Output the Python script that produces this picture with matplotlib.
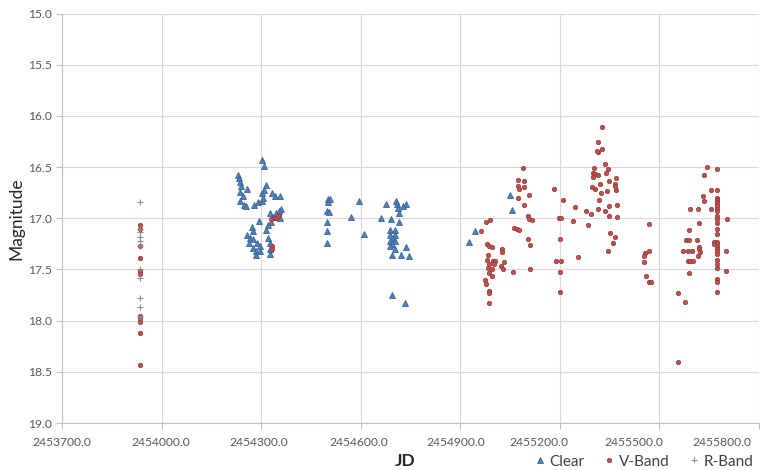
import matplotlib
matplotlib.use("Agg")
import matplotlib.pyplot as plt
from matplotlib.ticker import FormatStrFormatter, MultipleLocator
from matplotlib.transforms import ScaledTranslation

plt.rcParams['font.family'] = ['Lato', 'DejaVu Sans']

# ---------------- data ----------------
clear_jd = [
    2454304, 2454308, 2454230, 2454233, 2454236, 2454238, 2454256, 2454236, 2454244, 2454236,
    2454248, 2454254, 2454278, 2454291, 2454304, 2454306, 2454304, 2454308, 2454314, 2454334,
    2454341, 2454358, 2454361, 2454354, 2454346, 2454326, 2454336, 2454356, 2454331, 2454321,
    2454314, 2454294, 2454271, 2454276, 2454256, 2454266, 2454276, 2454264, 2454288, 2454296,
    2454274, 2454284, 2454296, 2454321, 2454326, 2454326, 2454284, 2454326,
    2454501, 2454506, 2454498, 2454504, 2454498, 2454498, 2454498, 2454501,
    2454572, 2454595, 2454609,
    2454677, 2454707, 2454709, 2454712, 2454727, 2454737, 2454660, 2454692, 2454714, 2454714,
    2454687, 2454702, 2454689, 2454704, 2454697, 2454687, 2454704, 2454695, 2454687, 2454702,
    2454737, 2454695, 2454722, 2454745, 2454695, 2454732,
    2454925, 2454945, 2455051, 2455056,
]
clear_mag = [
    16.43, 16.49, 16.58, 16.61, 16.65, 16.68, 16.71, 16.74, 16.78, 16.83,
    16.87, 16.88, 16.87, 16.84, 16.83, 16.80, 16.75, 16.72, 16.67, 16.75,
    16.78, 16.78, 16.91, 16.93, 16.95, 16.95, 16.99, 17.00, 17.04, 17.07,
    17.11, 17.03, 17.08, 17.12, 17.16, 17.19, 17.20, 17.24, 17.24, 17.27,
    17.29, 17.32, 17.32, 17.19, 17.24, 17.30, 17.36, 17.35,
    16.81, 16.81, 16.93, 16.94, 17.04, 17.12, 17.24, 16.84,
    16.99, 16.83, 17.15,
    16.86, 16.83, 16.86, 16.90, 16.88, 16.86, 17.00, 17.01, 16.95, 17.04,
    17.11, 17.11, 17.16, 17.16, 17.19, 17.22, 17.22, 17.25, 17.27, 17.30,
    17.28, 17.36, 17.36, 17.37, 17.75, 17.83,
    17.23, 17.12, 16.77, 16.92,
]

vband_jd = [
    2453935, 2453935, 2453935, 2453935, 2453935, 2453935, 2453935, 2453935, 2453935, 2453935, 2453935,
    2454331, 2454341, 2454346, 2454354, 2454334, 2454334, 2454350,
    2455088, 2455073, 2455091, 2455073, 2455078, 2455091, 2455108, 2455073, 2455093, 2455103,
    2455108, 2455115, 2454990, 2454978, 2454963, 2455063, 2455070, 2455078, 2455103, 2455111,
    2454980, 2454988, 2454996, 2455026, 2455026, 2454983, 2454981, 2454998, 2455006, 2455031,
    2454988, 2455003, 2455023, 2454983, 2454996, 2455028, 2455060, 2455111, 2454988, 2454996,
    2454976, 2454978, 2454988, 2454986, 2454986,
    2455183, 2455211, 2455247, 2455279, 2455294, 2455198, 2455204, 2455239, 2455286, 2455201,
    2455254, 2455190, 2455205, 2455201, 2455201,
    2455327, 2455316, 2455314, 2455327, 2455337, 2455344, 2455304, 2455299, 2455307, 2455314,
    2455339, 2455369, 2455347, 2455321, 2455367, 2455297, 2455307, 2455324, 2455342, 2455369,
    2455317, 2455371, 2455349, 2455314, 2455335, 2455349, 2455371, 2455351, 2455367, 2455359,
    2455344, 2455311, 2455365, 2455300,
    2455469, 2455457, 2455469, 2455454, 2455454, 2455459, 2455469, 2455476,
    2455557, 2455578, 2455557,
    2455643, 2455635, 2455655, 2455630, 2455633, 2455592, 2455615, 2455657, 2455620, 2455590,
    2455580, 2455588, 2455613, 2455620, 2455620, 2455570, 2455587, 2455598, 2455622, 2455617,
    2455585, 2455593, 2455602, 2455590,
    2455674, 2455674, 2455673, 2455675, 2455674, 2455674, 2455673, 2455675, 2455674, 2455674,
    2455674, 2455673, 2455675, 2455674, 2455674, 2455675, 2455674, 2455673, 2455674, 2455674,
    2455674, 2455675, 2455674, 2455674, 2455673, 2455674,
    2455665, 2455665, 2455703, 2455701, 2455701,
]
vband_mag = [
    17.07, 17.10, 17.27, 17.39, 17.51, 17.54, 17.95, 17.98, 18.01, 18.12, 18.43,
    17.01, 17.00, 17.00, 16.97, 17.27, 17.30, 16.98,
    16.51, 16.63, 16.64, 16.68, 16.71, 16.69, 16.77, 16.80, 16.87, 16.98,
    17.01, 17.02, 17.02, 17.04, 17.12, 17.09, 17.10, 17.11, 17.20, 17.26,
    17.25, 17.27, 17.28, 17.30, 17.33, 17.36, 17.41, 17.42, 17.42, 17.43,
    17.45, 17.45, 17.47, 17.49, 17.50, 17.50, 17.52, 17.50, 17.53, 17.56,
    17.60, 17.64, 17.71, 17.73, 17.83,
    16.71, 16.82, 16.89, 16.93, 16.96, 17.00, 17.00, 17.03, 17.07, 17.20,
    17.38, 17.42, 17.42, 17.52, 17.72,
    16.11, 16.25, 16.35, 16.32, 16.47, 16.52, 16.51, 16.56, 16.57, 16.58,
    16.56, 16.61, 16.64, 16.66, 16.66, 16.69, 16.71, 16.75, 16.73, 16.72,
    16.82, 16.87, 16.88, 16.91, 16.93, 16.98, 16.99, 17.14, 17.18, 17.24,
    17.32, 16.34, 16.68, 16.60,
    17.06, 17.34, 17.32, 17.37, 17.43, 17.56, 17.62, 17.62,
    17.73, 17.82, 18.40,
    16.50, 16.58, 16.72, 16.78, 16.83, 16.91, 16.91, 16.91, 17.05, 17.11,
    17.21, 17.21, 17.21, 17.28, 17.30, 17.32, 17.32, 17.32, 17.33, 17.37,
    17.42, 17.42, 17.42, 17.53,
    16.52, 16.72, 16.80, 16.82, 16.84, 16.86, 16.88, 16.91, 16.93, 16.98,
    17.01, 17.05, 17.10, 17.15, 17.23, 17.25, 17.28, 17.30, 17.32, 17.35,
    17.41, 17.45, 17.49, 17.59, 17.62, 17.72,
    17.23, 17.25, 17.01, 17.32, 17.51,
]

rband_jd = [2453935, 2453934, 2453936, 2453935, 2453936, 2453934, 2453935, 2453936, 2453934, 2453936, 2453935]
rband_mag = [16.84, 17.10, 17.13, 17.18, 17.22, 17.27, 17.50, 17.58, 17.78, 17.87, 17.96]

series_labels = ["Clear", "V-Band", "R-Band"]
x_ticks = [2453700, 2454000, 2454300, 2454600, 2454900, 2455200, 2455500, 2455800]

# ---------------- figure ----------------
fig = plt.figure(figsize=(7.6, 4.7), dpi=100)
ax = fig.add_axes([0.0816, 0.1, 0.917, 0.871])

ax.plot(clear_jd, clear_mag, linestyle='none', marker='^', markersize=4.2,
        markerfacecolor='#4F81BD', markeredgecolor='#3A6396', markeredgewidth=0.6,
        label=series_labels[0], zorder=3)
ax.plot(vband_jd, vband_mag, linestyle='none', marker='o', markersize=3.2,
        markerfacecolor='#C0504D', markeredgecolor='#8E3A38', markeredgewidth=0.5,
        label=series_labels[1], zorder=4)
ax.plot(rband_jd, rband_mag, linestyle='none', marker='+', markersize=5,
        markeredgecolor='#8C8C8C', markeredgewidth=0.8,
        label=series_labels[2], zorder=5)

ax.set_xlim(2453700, 2455800)
ax.set_ylim(19.0, 15.0)
ax.set_xticks(x_ticks)
ax.yaxis.set_major_locator(MultipleLocator(0.5))
ax.xaxis.set_major_formatter(FormatStrFormatter('%.1f'))
ax.yaxis.set_major_formatter(FormatStrFormatter('%.1f'))

ax.grid(True, color='#D9D9D9', linewidth=0.8)
ax.set_axisbelow(True)
for side in ['top', 'right']:
    ax.spines[side].set_visible(False)
for side in ['left', 'bottom']:
    ax.spines[side].set_color('#BFBFBF')
    ax.spines[side].set_linewidth(0.8)
ax.tick_params(axis='both', colors='#BFBFBF', labelcolor='#595959',
               labelsize=8.7, length=4, width=0.8, direction='out')
ax.tick_params(axis='x', pad=6)

# shift x tick labels as in the reference (labels drift left toward the right end)
fig.canvas.draw()
label_shift_px = [0, -1, -2, -2, -4, -21, -26, -37]
for lab, dx in zip(ax.get_xticklabels(), label_shift_px):
    lab.set_transform(lab.get_transform() + ScaledTranslation(dx / 100.0, 0, fig.dpi_scale_trans))

ax.set_ylabel('Magnitude', fontsize=12.5, color='#262626', labelpad=2)
fig.text(0.533, 0.019, 'JD', fontsize=12.5, fontweight='bold', color='#262626',
         ha='center', va='center')

leg = fig.legend(loc='center', bbox_to_anchor=(0.846, 0.018), ncol=3, frameon=False,
                 fontsize=11, handletextpad=0.15, columnspacing=1.1, handlelength=1.0,
                 borderaxespad=0)
for t in leg.get_texts():
    t.set_color('#404040')

fig.savefig('out.png', dpi=100)
